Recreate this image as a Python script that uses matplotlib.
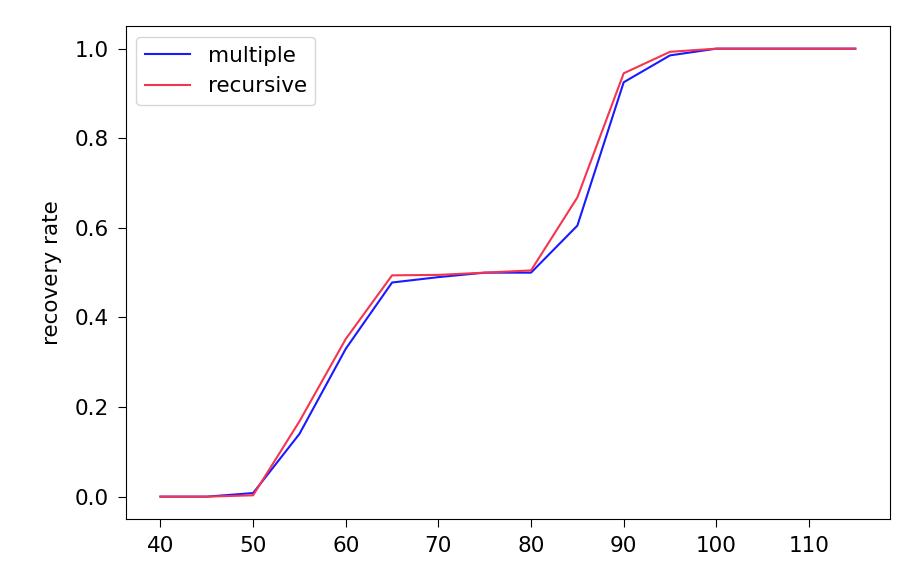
import matplotlib
matplotlib.use("Agg")
from matplotlib import pyplot as plt

snr = [40, 45, 50, 55, 60, 65, 70, 75, 80, 85, 90, 95, 100, 105, 110, 115]
multiple = [0.0, 0.0, 0.008, 0.14, 0.33, 0.478, 0.49, 0.5, 0.5, 0.605, 0.925, 0.985, 1.0, 1.0, 1.0, 1.0]
recursive = [0.0, 0.0, 0.003, 0.168, 0.352, 0.494, 0.495, 0.5, 0.505, 0.668, 0.945, 0.993, 1.0, 1.0, 1.0, 1.0]

fig = plt.figure(figsize=(9.11, 5.71), dpi=100)
ax = fig.add_axes([0.138, 0.091, 0.839, 0.863])

ax.plot(snr, multiple, color="#1a1aff", lw=1.5, label="multiple")
ax.plot(snr, recursive, color="#f5344f", lw=1.5, label="recursive")

ax.set_ylabel("recovery rate", fontsize=15.5, labelpad=9)
ax.tick_params(labelsize=15.5, length=6, pad=6)
ax.set_xticks([40, 50, 60, 70, 80, 90, 100, 110])
ax.set_yticks([0.0, 0.2, 0.4, 0.6, 0.8, 1.0])
ax.legend(loc="upper left", fontsize=15.5, handlelength=2.1)

fig.savefig("out.png", dpi=100)
